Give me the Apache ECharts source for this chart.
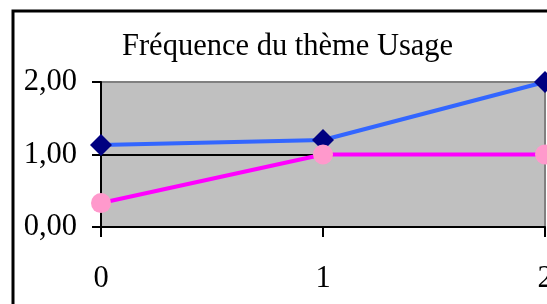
<!DOCTYPE html>
<html>
<head>
<meta charset="utf-8">
<script src="https://cdn.jsdelivr.net/npm/echarts@6/dist/echarts.min.js"></script>
<style>
  html, body { margin: 0; padding: 0; background: #fff; overflow: hidden; }
  #chart { width: 547px; height: 304px; }
</style>
</head>
<body>
<div id="chart"></div>
<script>
  // categories on the x axis
  const categories = ['0', '1', '2'];
  // the two series
  const serieBleue = [1.13, 1.2, 2.0];
  const serieRose = [0.33, 1.0, 1.0];
  const titre = 'Fréquence du thème Usage';

  const chart = echarts.init(document.getElementById('chart'));
  const font = "'Liberation Serif', 'Times New Roman', serif";

  chart.setOption({
    animation: false,
    title: {
      text: titre,
      left: 117,
      top: 26,
      textStyle: { fontFamily: font, fontSize: 30.5, fontWeight: 'normal', color: '#000' }
    },
    graphic: [{
      type: 'rect',
      shape: { x: 13, y: 11, width: 600, height: 400 },
      style: { fill: 'none', stroke: '#000', lineWidth: 3 },
      z: 100
    }],
    grid: {
      left: 101, top: 82, right: 2, bottom: 77,
      outerBoundsMode: 'none',
      containLabel: false,
      show: true,
      backgroundColor: '#c0c0c0',
      borderColor: '#808080',
      borderWidth: 2
    },
    xAxis: {
      type: 'category',
      data: categories,
      boundaryGap: false,
      axisLine: { lineStyle: { color: '#000', width: 2 } },
      axisTick: { length: 10, lineStyle: { color: '#000', width: 2 } },
      axisLabel: { margin: 36, fontFamily: font, fontSize: 30.5, color: '#000', hideOverlap: false },
      splitLine: { show: false }
    },
    yAxis: {
      type: 'value',
      min: 0,
      max: 2,
      interval: 1,
      axisLine: { show: true, lineStyle: { color: '#000', width: 2 } },
      axisTick: { show: true, length: 9, lineStyle: { color: '#000', width: 2 } },
      axisLabel: {
        margin: 24,
        fontFamily: font,
        fontSize: 30.5,
        color: '#000',
        formatter: v => v.toFixed(2).replace('.', ',')
      },
      splitLine: { show: true, lineStyle: { color: ['#000', '#000', '#808080'], width: 2 } }
    },
    series: [
      {
        type: 'line',
        data: serieBleue,
        symbol: 'diamond',
        symbolSize: 22,
        lineStyle: { color: '#3366ff', width: 4 },
        itemStyle: { color: '#000080' },
        z: 3
      },
      {
        type: 'line',
        data: serieRose,
        symbol: 'circle',
        symbolSize: 20,
        lineStyle: { color: '#ff00ff', width: 4 },
        itemStyle: { color: '#ff99cc' },
        z: 4
      }
    ]
  });
</script>
</body>
</html>
